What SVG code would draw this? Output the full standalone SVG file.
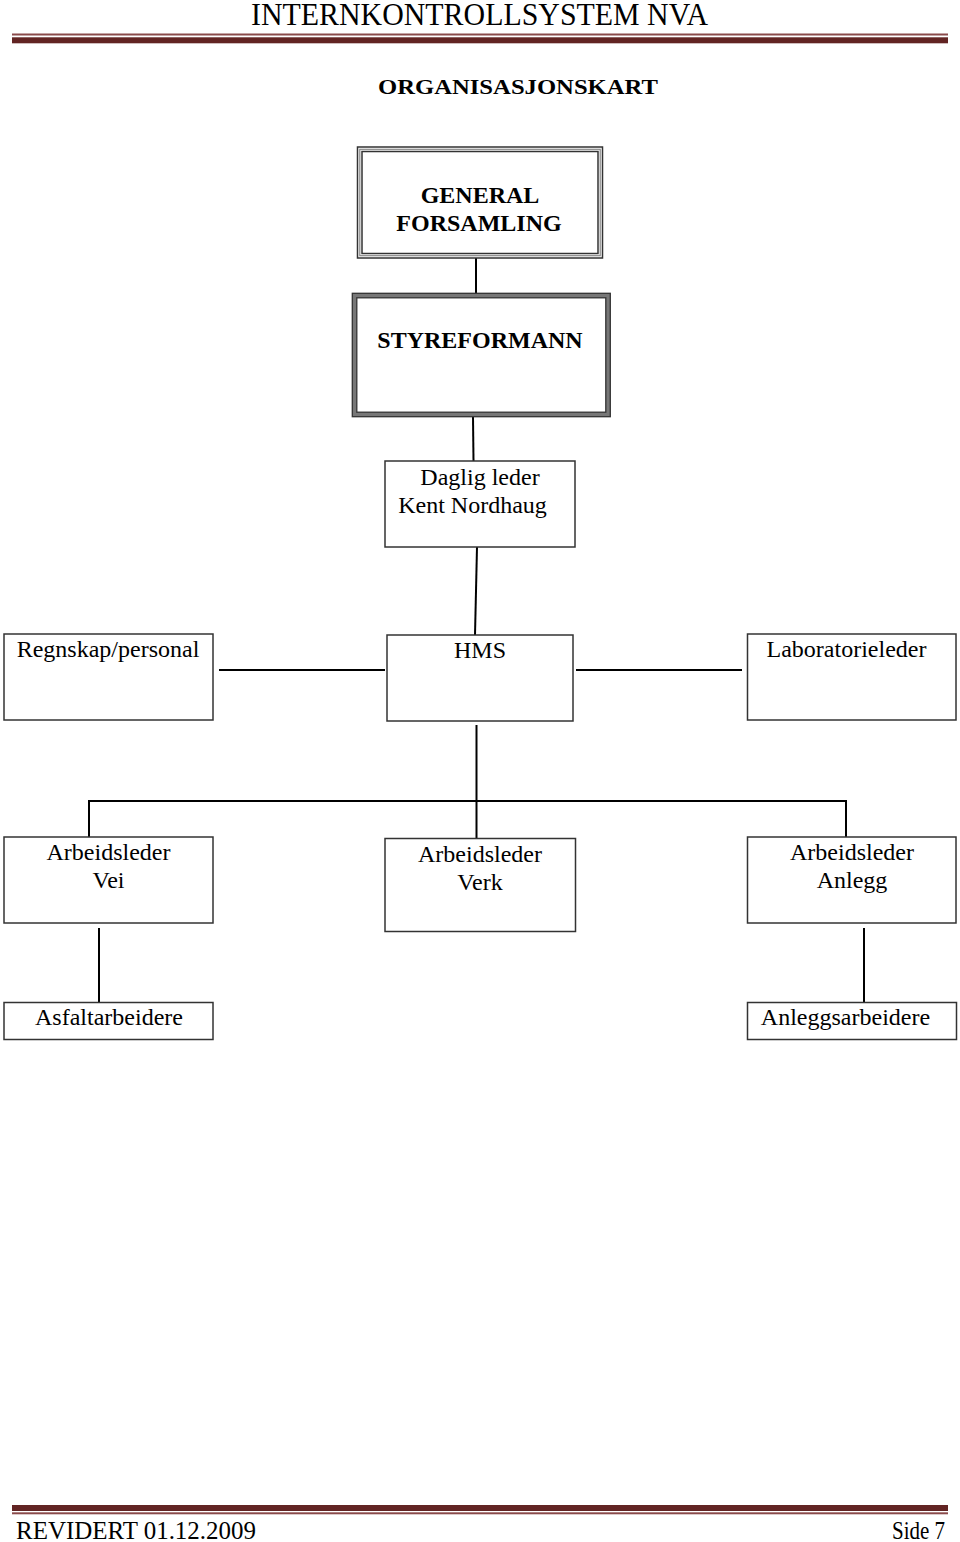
<svg xmlns="http://www.w3.org/2000/svg" width="960" height="1542" viewBox="0 0 960 1542">
<style>
  .box { fill: #fff; stroke: #333; stroke-width: 1.5; }
  .lbl { font-family: "Liberation Serif", "Times New Roman", serif; font-size: 24px; fill: #000; text-anchor: middle; }
  .bold { font-weight: bold; }
  .hdr { font-family: "Liberation Serif", "Times New Roman", serif; font-size: 31px; fill: #000; }
  .conn line, .conn polyline { stroke: #000; stroke-width: 2; fill: none; }
</style>
<rect x="0" y="0" width="960" height="1542" fill="#fff"/>

<!-- header -->
<g id="header">
  <text class="hdr" x="251" y="25" textLength="457" lengthAdjust="spacingAndGlyphs">INTERNKONTROLLSYSTEM NVA</text>
  <rect x="12" y="33.5" width="936" height="2" fill="#8a4a4a"/>
  <rect x="12" y="37.3" width="936" height="6" fill="#622423"/>
</g>

<g id="title">
  <text class="lbl bold" x="518" y="94" font-size="21" textLength="280" lengthAdjust="spacingAndGlyphs" style="font-size:21px">ORGANISASJONSKART</text>
</g>

<!-- connectors -->
<g class="conn" id="connectors">
  <line x1="476" y1="258" x2="476" y2="294"/>
  <line x1="473" y1="417" x2="473.5" y2="461"/>
  <line x1="477" y1="547" x2="475" y2="635"/>
  <line x1="219" y1="670" x2="385" y2="670"/>
  <line x1="576" y1="670" x2="742" y2="670"/>
  <line x1="476.5" y1="725" x2="476.5" y2="838"/>
  <polyline points="89,837 89,801 846,801 846,837"/>
  <line x1="99" y1="928" x2="99" y2="1002"/>
  <line x1="864" y1="928" x2="864" y2="1002"/>
</g>

<g id="general-forsamling">
  <rect x="357.5" y="147" width="245" height="111" fill="#fff" stroke="#333" stroke-width="1.5"/>
  <rect x="359.8" y="149.3" width="240.4" height="106.4" fill="none" stroke="#888" stroke-width="1.2"/>
  <rect x="362" y="151.5" width="236" height="102" fill="none" stroke="#333" stroke-width="1.5"/>
  <text class="lbl bold" x="480" y="203">GENERAL</text>
  <text class="lbl bold" x="479" y="231">FORSAMLING</text>
</g>

<g id="styreformann">
  <rect x="354.5" y="295.5" width="253.5" height="119" fill="#fff" stroke="#777" stroke-width="4.5"/>
  <rect x="352.3" y="293.3" width="258" height="123.4" fill="none" stroke="#333" stroke-width="1.3"/>
  <rect x="356.8" y="297.8" width="249" height="114.4" fill="none" stroke="#333" stroke-width="1.3"/>
  <text class="lbl bold" x="480" y="348">STYREFORMANN</text>
</g>

<g id="daglig-leder">
  <rect class="box" x="385" y="461" width="190" height="86"/>
  <text class="lbl" x="480" y="485">Daglig leder</text>
  <text class="lbl" x="472.5" y="513">Kent Nordhaug</text>
</g>

<g id="regnskap">
  <rect class="box" x="4" y="634" width="209" height="86"/>
  <text class="lbl" x="108" y="657">Regnskap/personal</text>
</g>

<g id="hms">
  <rect class="box" x="387" y="635" width="186" height="86"/>
  <text class="lbl" x="480" y="658">HMS</text>
</g>

<g id="laboratorieleder">
  <rect class="box" x="747.5" y="634" width="208.5" height="86"/>
  <text class="lbl" x="846.5" y="657">Laboratorieleder</text>
</g>

<g id="arbeidsleder-vei">
  <rect class="box" x="4" y="837" width="209" height="86"/>
  <text class="lbl" x="108.5" y="860">Arbeidsleder</text>
  <text class="lbl" x="108.5" y="888">Vei</text>
</g>

<g id="arbeidsleder-verk">
  <rect class="box" x="385" y="838.5" width="190.5" height="93"/>
  <text class="lbl" x="480" y="862">Arbeidsleder</text>
  <text class="lbl" x="480" y="890">Verk</text>
</g>

<g id="arbeidsleder-anlegg">
  <rect class="box" x="747.5" y="837" width="208.5" height="86"/>
  <text class="lbl" x="852" y="860">Arbeidsleder</text>
  <text class="lbl" x="852" y="888">Anlegg</text>
</g>

<g id="asfaltarbeidere">
  <rect class="box" x="4" y="1002.5" width="209" height="37"/>
  <text class="lbl" x="109" y="1025">Asfaltarbeidere</text>
</g>

<g id="anleggsarbeidere">
  <rect class="box" x="747.5" y="1002.5" width="209" height="37"/>
  <text class="lbl" x="845.5" y="1025">Anleggsarbeidere</text>
</g>

<!-- footer -->
<g id="footer">
  <rect x="12" y="1505" width="936" height="6" fill="#622423"/>
  <rect x="12" y="1512.3" width="936" height="2" fill="#8a4a4a"/>
  <text class="hdr" x="16" y="1539" style="font-size:25px" textLength="240" lengthAdjust="spacingAndGlyphs">REVIDERT  01.12.2009</text>
  <text class="hdr" x="945" y="1539" style="font-size:25px;text-anchor:end" textLength="53" lengthAdjust="spacingAndGlyphs">Side 7</text>
</g>
</svg>
